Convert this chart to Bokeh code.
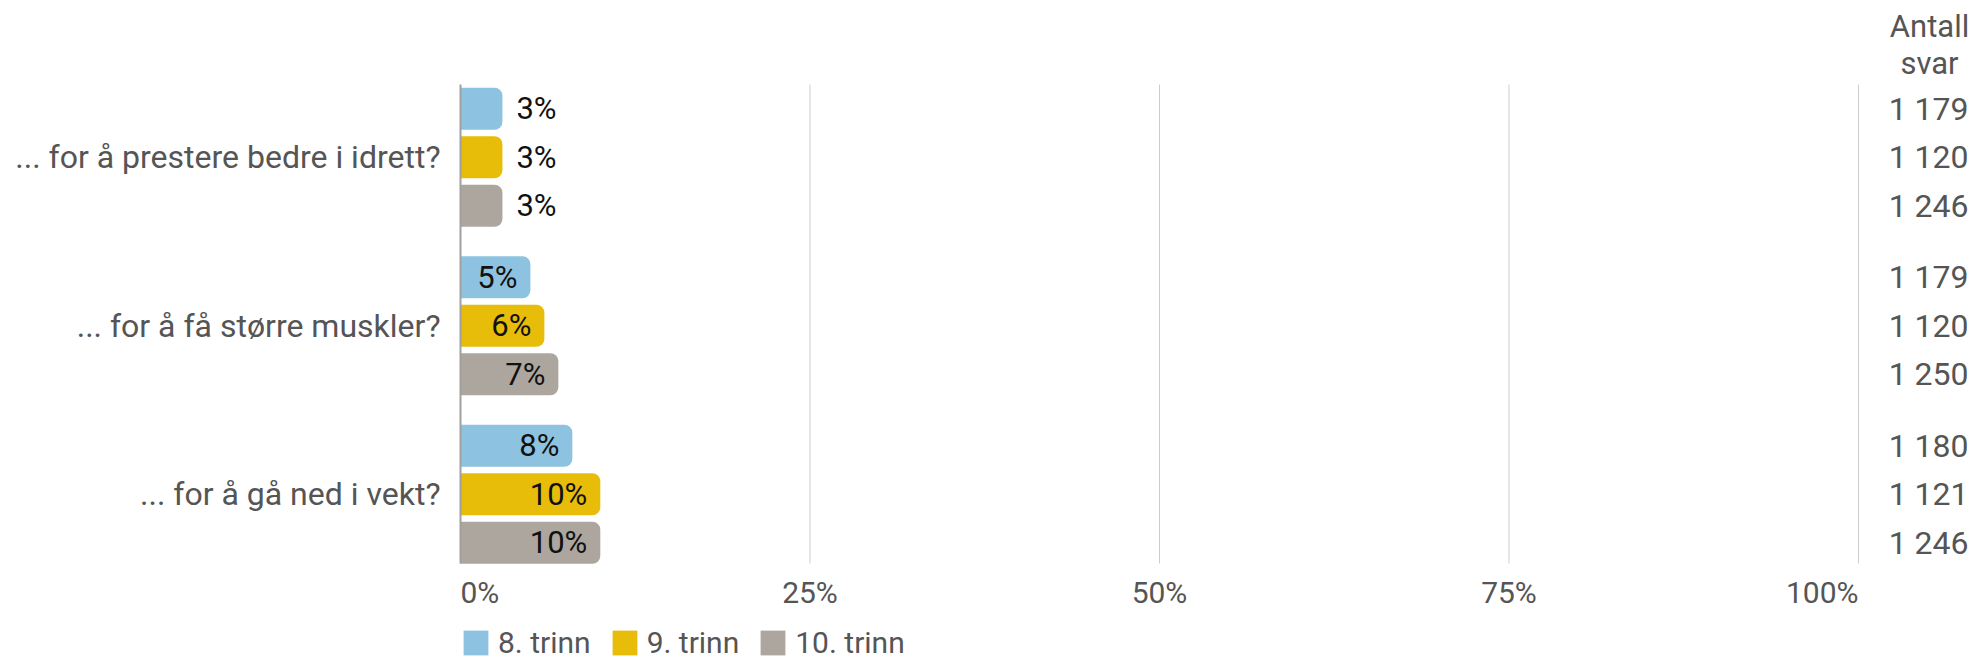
from bokeh.plotting import figure
from bokeh.models import Range1d, FixedTicker, Legend, LegendItem, ColumnDataSource
from bokeh.embed import file_html
from bokeh.resources import INLINE
from bokeh.core.properties import value

# ---------------- data ----------------
categories = ["... for å prestere bedre i idrett?",
              "... for å få større muskler?",
              "... for å gå ned i vekt?"]
grades = ["8. trinn", "9. trinn", "10. trinn"]
pct_8 = [3, 5, 8]
pct_9 = [3, 6, 10]
pct_10 = [3, 7, 10]
n_8 = [1179, 1179, 1180]
n_9 = [1120, 1120, 1121]
n_10 = [1246, 1250, 1246]
x_ticks = [0, 25, 50, 75, 100]
x_tick_labels = ["0%", "25%", "50%", "75%", "100%"]
count_header = ["Antall", "svar"]

colors = ["#8dc3e0", "#e8bd0a", "#ada69f"]
FONT = "Roboto"
TXT = "#555555"

# ---------------- layout (pixels) ----------------
W, H = 1975, 660
LEFT = 460            # x = 0 %
RIGHT100 = 1858       # x = 100 %
TOP = 84              # top of plot area
BOTTOM = 563          # bottom of plot area
PX_X = (RIGHT100 - LEFT) / 100.0
PITCH = 48.5          # px per y unit (bar pitch)
PLOT_BOTTOM = (BOTTOM - TOP) / PITCH
GROUP_STEP = 3.474
FIRST = 1.5
BAR_H = 42 / PITCH

p = figure(width=W, height=H,
           x_range=Range1d(0, (W - LEFT) / PX_X),
           y_range=Range1d((H - TOP) / PITCH, -TOP / PITCH),
           output_backend="svg", toolbar_location=None, x_axis_location=None,
           min_border_left=LEFT, min_border_right=0, min_border_top=0, min_border_bottom=0,
           outline_line_color=None, background_fill_color="white", border_fill_color="white")
p.xgrid.visible = False
p.ygrid.visible = False

series = [pct_8, pct_9, pct_10]
counts = [n_8, n_9, n_10]
group_centers = [FIRST + g * GROUP_STEP for g in range(len(categories))]

# vertical grid lines (25..100 %)
p.segment(x0=x_ticks[1:], y0=[0] * 4, x1=x_ticks[1:], y1=[PLOT_BOTTOM] * 4,
          line_color="#cccccc", line_width=1)

renderers = []
all_y, all_n = [], []
for k, (vals, ns) in enumerate(zip(series, counts)):
    ys = [c + (k - 1) * 1.0 for c in group_centers]
    all_y += ys
    all_n += ns
    src = ColumnDataSource(dict(y=ys, v=vals))
    r = p.hbar(y="y", left=0, right="v", height=BAR_H, source=src,
               fill_color=colors[k], line_color=None, border_radius=(0, 8, 8, 0))
    renderers.append(r)
    inside = ColumnDataSource(dict(y=[y for y, v in zip(ys, vals) if v >= 5],
                                   v=[v for v in vals if v >= 5],
                                   lab=[f"{v}%" for v in vals if v >= 5]))
    outside = ColumnDataSource(dict(y=[y for y, v in zip(ys, vals) if v < 5],
                                    v=[v for v in vals if v < 5],
                                    lab=[f"{v}%" for v in vals if v < 5]))
    p.text(x="v", y="y", text="lab", source=inside, x_offset=-13, text_align="right",
           text_baseline="middle", text_font=value(FONT), text_font_size="31px", text_color="#111111")
    p.text(x="v", y="y", text="lab", source=outside, x_offset=14, text_align="left",
           text_baseline="middle", text_font=value(FONT), text_font_size="31px", text_color="#111111")

# x tick labels: first left-aligned, middle centred, last right-aligned
y_tick = (592 - TOP) / PITCH
tick_style = dict(text_baseline="middle", text_font=value(FONT), text_font_size="30px", text_color=TXT)
p.text(x=x_ticks[:1], y=[y_tick], text=x_tick_labels[:1], text_align="left", **tick_style)
p.text(x=x_ticks[1:-1], y=[y_tick] * 3, text=x_tick_labels[1:-1], text_align="center", **tick_style)
p.text(x=x_ticks[-1:], y=[y_tick], text=x_tick_labels[-1:], text_align="right", **tick_style)

# counts column ("Antall svar")
cnt_src = ColumnDataSource(dict(x=[x_ticks[-1]] * len(all_y), y=all_y,
                                lab=[f"{n:,}".replace(",", " ") for n in all_n]))
p.text(x="x", y="y", text="lab", source=cnt_src, x_offset=110, text_align="right",
       text_baseline="middle", text_font=value(FONT), text_font_size="32px", text_color=TXT)
p.text(x=[x_ticks[-1]] * 2, y=[(26 - TOP) / PITCH, (63 - TOP) / PITCH], text=count_header,
       x_offset=71, text_align="center", text_baseline="middle",
       text_font=value(FONT), text_font_size="31px", text_color=TXT)

# y axis left: categories, line limited to plot area (= the 0 % line)
ya = p.yaxis[0]
ya.ticker = FixedTicker(ticks=group_centers)
ya.major_label_overrides = {c: name for c, name in zip(group_centers, categories)}
ya.bounds = (0, PLOT_BOTTOM)
ya.axis_line_color = "#a0a0a0"
ya.axis_line_width = 2
ya.major_tick_line_color = None
ya.minor_tick_line_color = None
ya.major_label_text_font = FONT
ya.major_label_text_font_size = "32px"
ya.major_label_text_color = TXT
ya.major_label_standoff = 14

legend = Legend(items=[LegendItem(label=g, renderers=[r]) for g, r in zip(grades, renderers)],
                orientation="horizontal", location=(0, 0),
                glyph_width=31, glyph_height=31, label_standoff=7, spacing=18,
                padding=0, margin=0, border_line_color=None, background_fill_alpha=0,
                label_text_font=FONT, label_text_font_size="30px", label_text_color=TXT,
                label_height=31)
p.add_layout(legend, "center")

open("out.html", "w").write(file_html(p, INLINE))
